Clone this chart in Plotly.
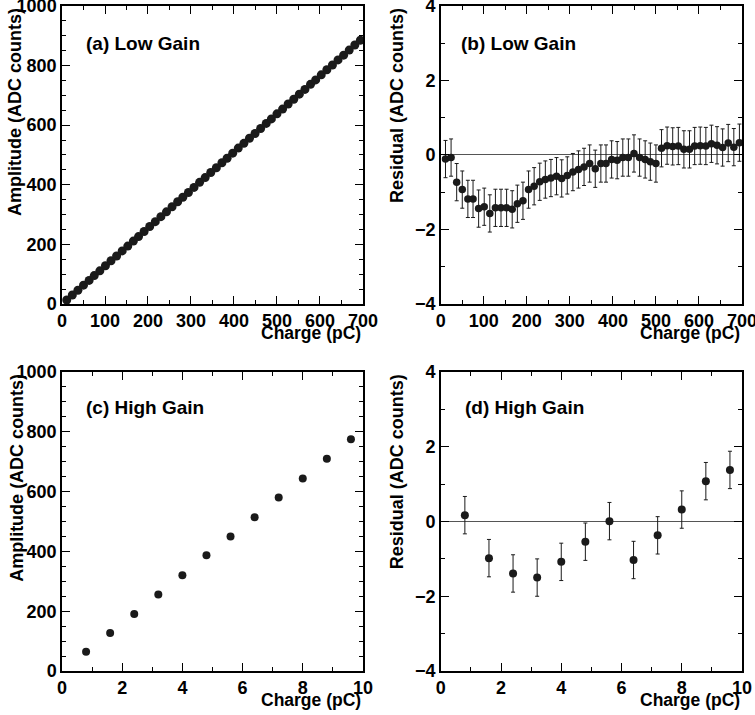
import plotly.graph_objects as go

# ---------------- data ----------------
# Low gain (panels a, b)
low_charge = [11, 24, 37, 50, 63, 75, 88, 101, 114, 127,
              140, 153, 166, 178, 191, 204, 217, 230, 243, 256,
              269, 281, 294, 307, 320, 333, 346, 359, 372, 384,
              397, 410, 423, 436, 449, 462, 475, 487, 500, 513,
              526, 539, 552, 565, 578, 590, 603, 616, 629, 642,
              655, 668, 681, 694]
low_amplitude = [13, 30, 46, 63, 79, 95, 111, 128, 145, 161,
                 178, 194, 211, 226, 243, 260, 276, 293, 309, 326,
                 343, 358, 374, 391, 408, 424, 441, 457, 474, 489,
                 506, 523, 539, 556, 572, 589, 606, 621, 638, 654,
                 671, 687, 704, 720, 737, 752, 769, 786, 802, 819,
                 835, 852, 869, 885]
low_residual = [-0.11, -0.07, -0.73, -0.93, -1.18, -1.18, -1.44, -1.39, -1.57, -1.42,
                -1.42, -1.42, -1.46, -1.31, -1.23, -0.93, -0.84, -0.72, -0.66, -0.62,
                -0.57, -0.63, -0.55, -0.46, -0.39, -0.32, -0.23, -0.37, -0.23, -0.23,
                -0.12, -0.14, -0.07, -0.07, 0.04, -0.07, -0.12, -0.18, -0.23, 0.18,
                0.25, 0.23, 0.24, 0.15, 0.15, 0.24, 0.25, 0.24, 0.30, 0.26,
                0.20, 0.32, 0.21, 0.33]
low_residual_err = [0.5] * 54

# High gain (panels c, d)
high_charge = [0.8, 1.6, 2.4, 3.2, 4.0, 4.8, 5.6, 6.4, 7.2, 8.0, 8.8, 9.6]
high_amplitude = [64, 127, 191, 256, 320, 387, 450, 514, 580, 644, 710, 775]
high_residual = [0.17, -0.98, -1.39, -1.50, -1.08, -0.54, 0.01, -1.03, -0.37, 0.32, 1.08, 1.38]
high_residual_err = [0.5] * 12

panel_labels = ["(a) Low Gain", "(b) Low Gain", "(c) High Gain", "(d) High Gain"]
x_title = "Charge (pC)"
y_titles = ["Amplitude (ADC counts)", "Residual (ADC counts)",
            "Amplitude (ADC counts)", "Residual (ADC counts)"]

# ---------------- style ----------------
FONT = "Liberation Sans"
INK = "#1a1a1a"
W, H = 755, 715
L, R, T, B = 62, 13, 6, 44

dom_left = [0.0, 0.4426]
dom_right = [0.557, 1.0]
dom_top = [0.552, 1.0]
dom_bot = [0.0, 0.4496]

fig = go.Figure()

def add_points(x, y, xa, ya, size, err=None):
    kw = {}
    if err is not None:
        kw["error_y"] = dict(type="data", array=err, color=INK, thickness=1, width=2)
    fig.add_trace(go.Scatter(
        x=x, y=y, mode="markers", xaxis=xa, yaxis=ya,
        marker=dict(color=INK, size=size, line=dict(width=0)),
        showlegend=False, hoverinfo="x+y", **kw))

add_points(low_charge, low_amplitude, "x", "y", 9)
add_points(low_charge, low_residual, "x2", "y2", 7.5, low_residual_err)
add_points(high_charge, high_amplitude, "x3", "y3", 8)
add_points(high_charge, high_residual, "x4", "y4", 8, high_residual_err)

tickfont = dict(family=FONT, size=18, color="black", weight="bold")

def common(domain, anchor, rng, dtick, minor):
    return dict(domain=domain, anchor=anchor, range=rng, dtick=dtick, tick0=0,
                showline=True, linecolor="black", linewidth=1.5, mirror="ticks",
                ticks="inside", ticklen=8, tickwidth=1, tickcolor="black",
                minor=dict(ticks="inside", ticklen=4, dtick=minor, tickcolor="black", tickwidth=1),
                showgrid=False, tickfont=tickfont, ticklabeloverflow="allow")

def xaxis(domain, anchor, rng, dtick, minor):
    d = common(domain, anchor, rng, dtick, minor)
    d["zeroline"] = False
    return d

def yaxis(domain, anchor, rng, dtick, minor, zeroline=False):
    d = common(domain, anchor, rng, dtick, minor)
    d.update(zeroline=zeroline, zerolinecolor="#555", zerolinewidth=1)
    return d

fig.update_layout(
    width=W, height=H,
    margin=dict(l=L, r=R, t=T, b=B, autoexpand=False),
    paper_bgcolor="white", plot_bgcolor="white",
    xaxis=xaxis(dom_left, "y", [0, 700], 100, 50),
    yaxis=yaxis(dom_top, "x", [0, 1000], 200, 50),
    xaxis2=xaxis(dom_right, "y2", [0, 700], 100, 50),
    yaxis2=yaxis(dom_top, "x2", [-4, 4], 2, 1, zeroline=True),
    xaxis3=xaxis(dom_left, "y3", [0, 10], 2, 1),
    yaxis3=yaxis(dom_bot, "x3", [0, 1000], 200, 50),
    xaxis4=xaxis(dom_right, "y4", [0, 10], 2, 1),
    yaxis4=yaxis(dom_bot, "x4", [-4, 4], 2, 1, zeroline=True),
)

axes = [("x", "y"), ("x2", "y2"), ("x3", "y3"), ("x4", "y4")]
label_pos = [(0.073, 0.873), (0.06, 0.873), (0.073, 0.88), (0.073, 0.88)]
ytitle_x = [-0.156, -0.147, -0.15, -0.146]
for i, (xa, ya) in enumerate(axes):
    fig.add_annotation(text=panel_labels[i], xref=f"{xa} domain", yref=f"{ya} domain",
                       x=label_pos[i][0], y=label_pos[i][1], xanchor="left", yanchor="middle",
                       showarrow=False, font=dict(family=FONT, size=19, color="black", weight="bold"))
    fig.add_annotation(text=x_title, xref=f"{xa} domain", yref=f"{ya} domain",
                       x=1.0, y=-0.096, xanchor="right", yanchor="middle",
                       showarrow=False, font=dict(family=FONT, size=17.5, color="black", weight="bold"))
    fig.add_annotation(text=y_titles[i], xref=f"{xa} domain", yref=f"{ya} domain",
                       x=ytitle_x[i], y=1.0, xanchor="center", yanchor="top", textangle=-90,
                       showarrow=False, font=dict(family=FONT, size=18, color="black", weight="bold"))

fig.write_html("out.html",
               config={"displayModeBar": False},
               post_script="document.body.style.margin='0';document.body.style.overflow='hidden';")
